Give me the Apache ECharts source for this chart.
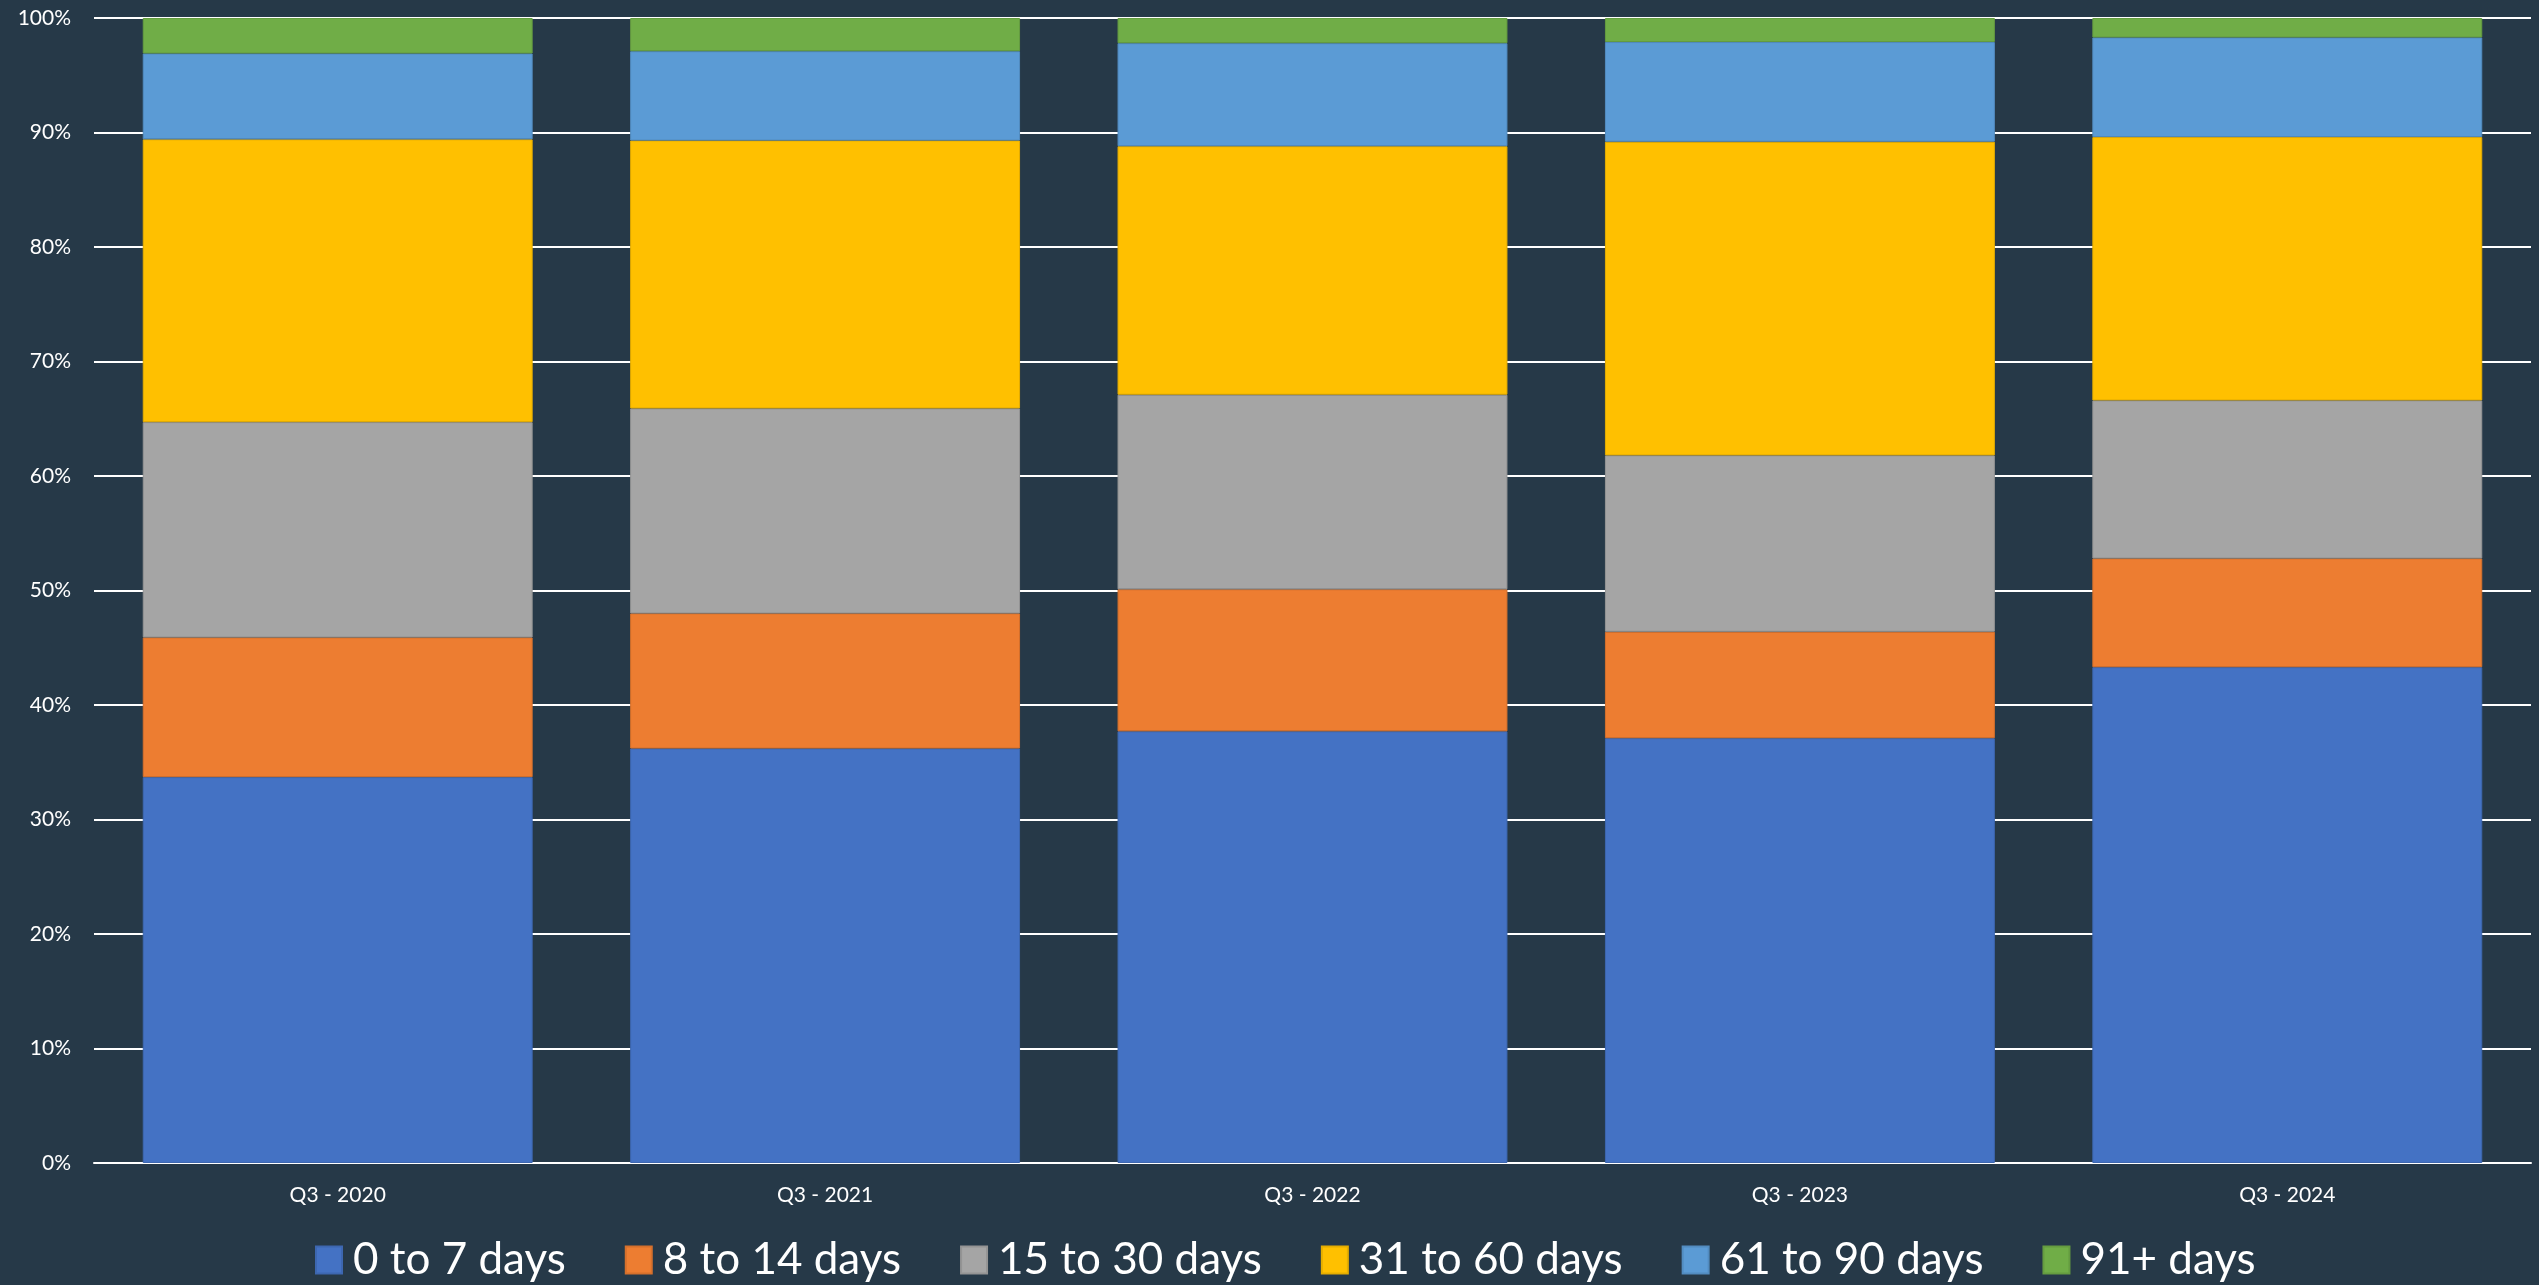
<!DOCTYPE html>
<html>
<head>
<meta charset="utf-8">
<script src="https://cdn.jsdelivr.net/npm/echarts@6/dist/echarts.min.js"></script>
<style>
html,body{margin:0;padding:0;background:#263948;}
#chart{width:2539px;height:1285px;}
</style>
</head>
<body>
<div id="chart"></div>
<script>
const categories = ['Q3 - 2020', 'Q3 - 2021', 'Q3 - 2022', 'Q3 - 2023', 'Q3 - 2024'];
const seriesNames = ['0 to 7 days', '8 to 14 days', '15 to 30 days', '31 to 60 days', '61 to 90 days', '91+ days'];
const days0to7 = [33.7, 36.2, 37.7, 37.1, 43.3];
const days8to14 = [12.2, 11.8, 12.4, 9.3, 9.5];
const days15to30 = [18.8, 17.9, 17.0, 15.4, 13.8];
const days31to60 = [24.7, 23.4, 21.7, 27.4, 23.0];
const days61to90 = [7.5, 7.8, 9.0, 8.7, 8.7];
const days91plus = [3.1, 2.9, 2.2, 2.1, 1.7];
const yTicks = [0, 10, 20, 30, 40, 50, 60, 70, 80, 90, 100];

const colors = ['#4472C4', '#ED7D31', '#A5A5A5', '#FFC000', '#5B9BD5', '#70AD47'];
const borders = ['#3d67b0', '#d5702c', '#949494', '#e5ad00', '#528cc0', '#659c40'];
const values = [days0to7, days8to14, days15to30, days31to60, days61to90, days91plus];
const FONT = 'Lato, "Open Sans", sans-serif';

const chart = echarts.init(document.getElementById('chart'), null, {renderer: 'canvas'});
chart.setOption({
  backgroundColor: '#263948',
  animation: false,
  grid: {left: 94, right: 8, top: 18, bottom: 122, containLabel: false},
  legend: {
    data: seriesNames,
    left: 310,
    top: 1233,
    itemWidth: 26,
    itemHeight: 27,
    itemGap: 59,
    icon: 'rect',
    textStyle: {color: '#ffffff', fontSize: 44, fontFamily: FONT, padding: [0, 0, 0, 6]}
  },
  xAxis: {
    type: 'category',
    data: categories,
    axisLine: {show: true, lineStyle: {color: '#ffffff', width: 2}},
    axisTick: {show: false},
    axisLabel: {color: '#ffffff', fontSize: 21, fontFamily: FONT, margin: 22}
  },
  yAxis: {
    type: 'value',
    min: yTicks[0],
    max: yTicks[yTicks.length - 1],
    interval: 10,
    axisLine: {show: false},
    axisTick: {show: false},
    axisLabel: {color: '#ffffff', fontSize: 21, fontFamily: FONT, margin: 23, formatter: '{value}%'},
    splitLine: {show: true, lineStyle: {color: '#ffffff', width: 2}}
  },
  series: seriesNames.map((name, i) => ({
    name: name,
    type: 'bar',
    stack: 'total',
    barCategoryGap: '20%',
    data: values[i],
    itemStyle: {color: colors[i], borderColor: borders[i], borderWidth: 1}
  }))
});
</script>
</body>
</html>
